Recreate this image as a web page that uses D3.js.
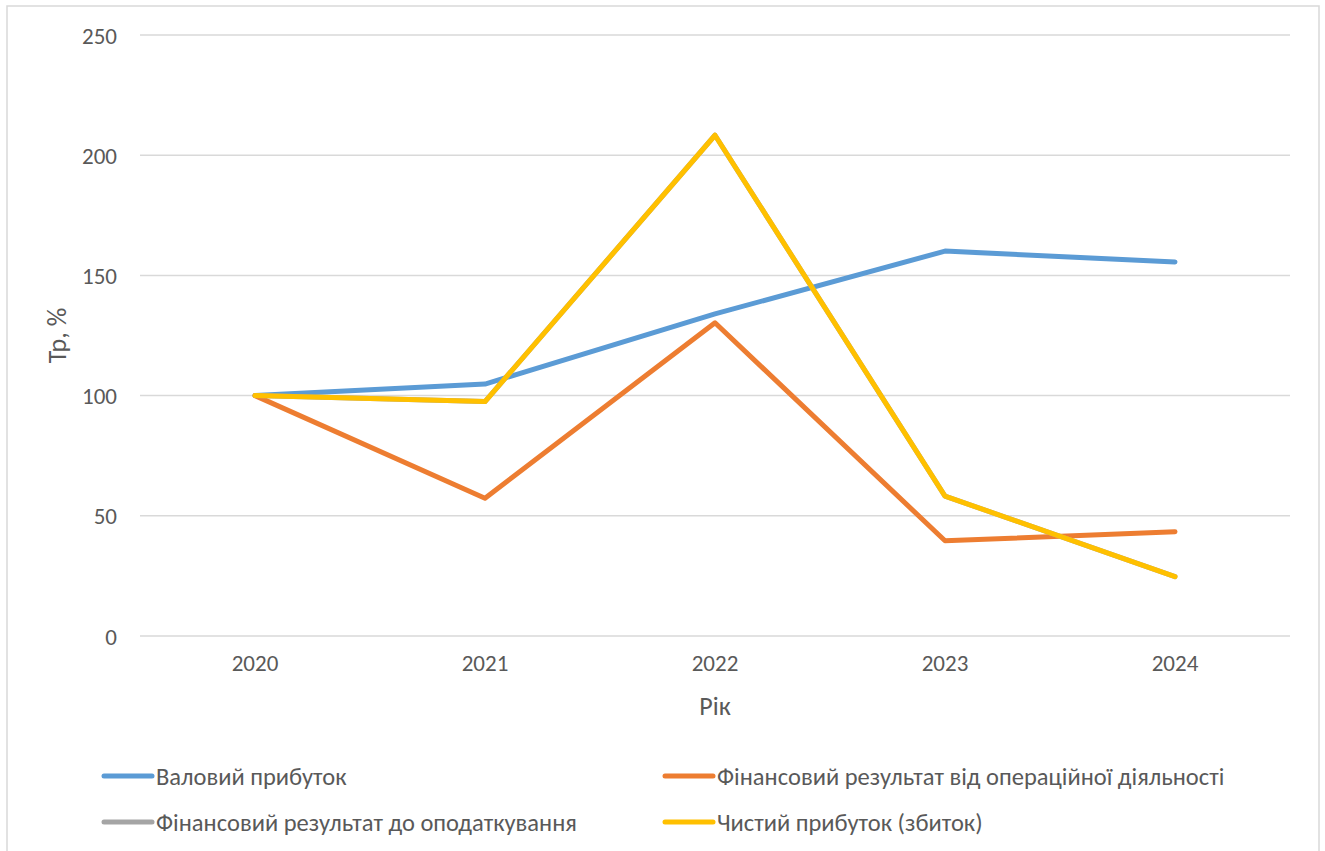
<!DOCTYPE html>
<html>
<head>
<meta charset="utf-8">
<script src="https://cdn.jsdelivr.net/npm/d3@7"></script>
<style>
    body { margin: 0; background: #fff; }
    #chart { width: 1325px; height: 851px; }
    text { font-family: Carlito, Calibri, 'Liberation Sans', sans-serif; fill: #595959; }
</style>
</head>
<body>
<div id="chart"></div>
<script>
const years = ['2020', '2021', '2022', '2023', '2024'];
const yTicks = [0, 50, 100, 150, 200, 250];

const grossProfit = [100, 104.8, 134, 160.1, 155.6];
const operatingResult = [100, 57.3, 130.3, 39.6, 43.4];
const preTaxResult = [100, 97.5, 208.3, 58.2, 24.7];
const netProfit = [100, 97.5, 208.3, 58.2, 24.7];

const seriesNames = [
    'Валовий прибуток',
    'Фінансовий результат від операційної діяльності',
    'Фінансовий результат до оподаткування',
    'Чистий прибуток (збиток)'
];
const seriesValues = [grossProfit, operatingResult, preTaxResult, netProfit];
const seriesColors = ['#5B9BD5', '#ED7D31', '#A5A5A5', '#FFC000'];

const width = 1325, height = 851;
const margin = { top: 35, right: 35, bottom: 215, left: 140 };

const svg = d3.select('#chart').append('svg')
    .attr('width', width)
    .attr('height', height);

// chart frame
svg.append('rect')
    .attr('x', 7).attr('y', 6)
    .attr('width', 1312).attr('height', 860)
    .attr('fill', 'none')
    .attr('stroke', '#d9d9d9')
    .attr('stroke-width', 1.5);

const x = d3.scaleBand()
    .domain(years)
    .range([margin.left, width - margin.right]);

const y = d3.scaleLinear()
    .domain([0, 250])
    .range([height - margin.bottom, margin.top]);

// gridlines
svg.append('g')
    .selectAll('line')
    .data(yTicks)
    .join('line')
    .attr('x1', margin.left)
    .attr('x2', width - margin.right)
    .attr('y1', d => y(d))
    .attr('y2', d => y(d))
    .attr('stroke', '#d9d9d9')
    .attr('stroke-width', 1.5);

// y axis labels
const yAxis = svg.append('g')
    .attr('transform', `translate(${margin.left - 23},0)`)
    .call(d3.axisLeft(y).tickValues(yTicks).tickSize(0).tickPadding(0));
yAxis.select('.domain').remove();
yAxis.selectAll('text')
    .style('font-size', '23px')
    .attr('fill', '#595959')
    .attr('dy', '0.35em');

// x axis labels
const xAxis = svg.append('g')
    .attr('transform', `translate(0,${y(0)})`)
    .call(d3.axisBottom(x).tickSize(0).tickPadding(19));
xAxis.select('.domain').remove();
xAxis.selectAll('text')
    .style('font-size', '23px')
    .attr('fill', '#595959');

// axis titles
svg.append('text')
    .attr('transform', `translate(66,${(y(0) + y(250)) / 2}) rotate(-90)`)
    .attr('text-anchor', 'middle')
    .style('font-size', '26px')
    .text('Тр, %');

svg.append('text')
    .attr('x', (margin.left + width - margin.right) / 2)
    .attr('y', 715)
    .attr('text-anchor', 'middle')
    .style('font-size', '26px')
    .text('Рік');

// lines
const line = d3.line()
    .x((d, i) => x(years[i]) + x.bandwidth() / 2)
    .y(d => y(d));

svg.append('g')
    .selectAll('path')
    .data(seriesValues)
    .join('path')
    .attr('d', d => line(d))
    .attr('fill', 'none')
    .attr('stroke', (d, i) => seriesColors[i])
    .attr('stroke-width', 5)
    .attr('stroke-linejoin', 'round')
    .attr('stroke-linecap', 'round');

// legend
const legendPos = [
    { x: 104, y: 776 },
    { x: 665, y: 776 },
    { x: 104, y: 822 },
    { x: 665, y: 822 }
];

const legend = svg.append('g')
    .selectAll('g')
    .data(seriesNames)
    .join('g')
    .attr('transform', (d, i) => `translate(${legendPos[i].x},${legendPos[i].y})`);

legend.append('line')
    .attr('x1', 0).attr('x2', 48)
    .attr('stroke', (d, i) => seriesColors[i])
    .attr('stroke-width', 5)
    .attr('stroke-linecap', 'round');

legend.append('text')
    .attr('x', 52)
    .attr('dy', '0.35em')
    .style('font-size', '24.5px')
    .text(d => d);
</script>
</body>
</html>
